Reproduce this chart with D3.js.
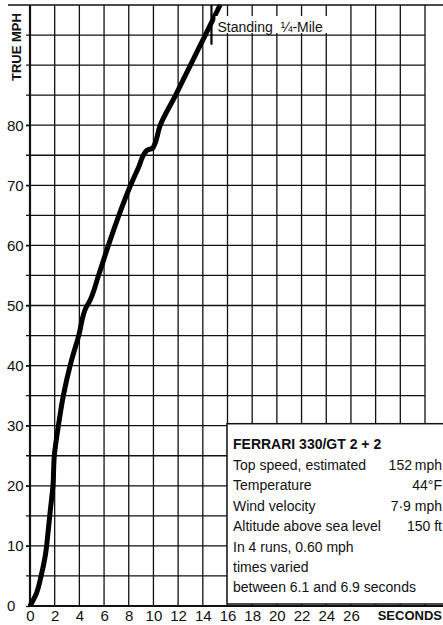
<!DOCTYPE html>
<html>
<head>
<meta charset="utf-8">
<script src="https://cdn.jsdelivr.net/npm/d3@7"></script>
<style>
  body { margin: 0; background: #fff; }
  svg { display: block; }
  text { font-family: "Liberation Sans", Arial, sans-serif; fill: #111; }
</style>
</head>
<body>
<svg id="chart" width="443" height="625"></svg>
<script>
// acceleration curve
const seconds = [0, 0.5, 0.9, 1.25, 1.45, 1.65, 1.86, 1.97, 2.3, 2.7, 3.25, 3.95, 4.6, 4.72, 5.55, 6.35, 7.2, 8.15, 8.8, 9.45, 9.95, 10.55, 11.8, 13.0, 14.2, 15.4];
const trueMph = [0, 2, 5, 8.5, 12, 16, 20, 25, 30, 35, 40, 45, 49.9, 50.3, 55, 60, 65, 70, 73, 75.8, 76.2, 80, 85, 90, 95, 100];

const xTickLabels = [0, 2, 4, 6, 8, 10, 12, 14, 16, 18, 20, 22, 24, 26];
const yTickLabels = [0, 10, 20, 30, 40, 50, 60, 70, 80];
const quarterMileTime = 14.7;

const panelTitle = 'FERRARI 330/GT 2 + 2';
const panelLabels = ['Top speed, estimated', 'Temperature', 'Wind velocity', 'Altitude above sea level', 'In 4 runs, 0.60 mph', 'times varied', 'between 6.1 and 6.9 seconds'];
const panelValues = ['152\u2009mph', '44°F', '7·9 mph', '150 ft', '', '', ''];

const ink = '#111';
const svg = d3.select('#chart');
const xScale = d3.scaleLinear().domain([0, 32]).range([30, 425]);
const yScale = d3.scaleLinear().domain([0, 100]).range([606, 5]);

// grid
const grid = svg.append('g').attr('stroke', ink).attr('stroke-width', 1.3);
grid.selectAll('.v').data(d3.range(2, 33, 2)).enter().append('line')
  .attr('x1', d => xScale(d)).attr('x2', d => xScale(d))
  .attr('y1', yScale(100)).attr('y2', yScale(0));
grid.selectAll('.h').data(d3.range(5, 100, 5)).enter().append('line')
  .attr('x1', xScale(0) - 4).attr('x2', xScale(32))
  .attr('y1', d => yScale(d)).attr('y2', d => yScale(d));
// top rule runs the whole width
grid.append('line')
  .attr('x1', 8).attr('x2', 443)
  .attr('y1', yScale(100)).attr('y2', yScale(100))
  .attr('stroke-width', 1.6);

// axes
svg.append('line')
  .attr('stroke', ink).attr('stroke-width', 2.2)
  .attr('x1', xScale(0)).attr('x2', xScale(0))
  .attr('y1', yScale(100)).attr('y2', yScale(0) + 1);

const yAxis = svg.append('g')
  .attr('transform', `translate(${xScale(0)},0)`)
  .call(d3.axisLeft(yScale).tickValues(yTickLabels).tickSize(4).tickFormat(d3.format('d')));
yAxis.select('.domain').remove();
yAxis.selectAll('line').attr('stroke', ink).attr('stroke-width', 1.3);
yAxis.selectAll('text')
  .attr('x', -23).attr('text-anchor', 'start')
  .attr('font-size', 15).attr('font-family', null).attr('fill', ink);

svg.append('text')
  .attr('transform', `translate(21, ${yScale(93)}) rotate(-90)`)
  .attr('text-anchor', 'middle')
  .attr('font-size', 13).attr('font-weight', 'bold')
  .text('TRUE MPH');

// the curve (speed only ever rises, so interpolate along y)
const line = d3.line()
  .x((d, i) => xScale(seconds[i]))
  .y(d => yScale(d))
  .curve(d3.curveMonotoneY);
svg.append('path')
  .datum(trueMph)
  .attr('d', line)
  .attr('fill', 'none')
  .attr('stroke', '#000')
  .attr('stroke-width', 5)
  .attr('stroke-linejoin', 'round');

// standing quarter mile marker
svg.append('line')
  .attr('stroke', '#000').attr('stroke-width', 2.2)
  .attr('x1', xScale(quarterMileTime)).attr('x2', xScale(quarterMileTime))
  .attr('y1', yScale(100)).attr('y2', yScale(93.4));
svg.append('rect')
  .attr('x', xScale(quarterMileTime) + 4).attr('y', 16)
  .attr('width', 112).attr('height', 17)
  .attr('fill', '#fff');
const qm = svg.append('text')
  .attr('x', xScale(quarterMileTime) + 6).attr('y', 32)
  .attr('font-size', 14);
qm.append('tspan').text('Standing');
qm.append('tspan').attr('dx', 8).text('¼-Mile');

// data panel
const panel = svg.append('g');
panel.append('rect')
  .attr('x', 227).attr('y', yScale(30) - 2)
  .attr('width', 240).attr('height', yScale(0) - yScale(30))
  .attr('fill', '#fff')
  .attr('stroke', ink).attr('stroke-width', 1.5);
panel.append('text')
  .attr('x', 233).attr('y', 449)
  .attr('font-size', 14).attr('font-weight', 'bold')
  .text(panelTitle);
panel.selectAll('.label').data(panelLabels).enter().append('text')
  .attr('x', 233).attr('y', (d, i) => 470 + i * 20.4)
  .attr('font-size', 14)
  .text(d => d);
panel.selectAll('.value').data(panelValues).enter().append('text')
  .attr('x', 442).attr('y', (d, i) => 470 + i * 20.4)
  .attr('text-anchor', 'end')
  .attr('font-size', 14)
  .text(d => d);

// x axis
svg.append('line')
  .attr('stroke', ink).attr('stroke-width', 2.2)
  .attr('x1', xScale(0) - 2).attr('x2', 443)
  .attr('y1', yScale(0)).attr('y2', yScale(0));
const xAxis = svg.append('g')
  .attr('transform', `translate(0,${yScale(0)})`)
  .call(d3.axisBottom(xScale).tickValues(xTickLabels).tickSize(0).tickFormat(d3.format('d')));
xAxis.select('.domain').remove();
xAxis.selectAll('text')
  .attr('y', 15).attr('dy', 0)
  .attr('font-size', 15).attr('font-family', null).attr('fill', ink);

svg.append('text')
  .attr('x', 442).attr('y', 620)
  .attr('text-anchor', 'end')
  .attr('font-size', 13).attr('font-weight', 'bold')
  .text('SECONDS');
</script>
</body>
</html>
